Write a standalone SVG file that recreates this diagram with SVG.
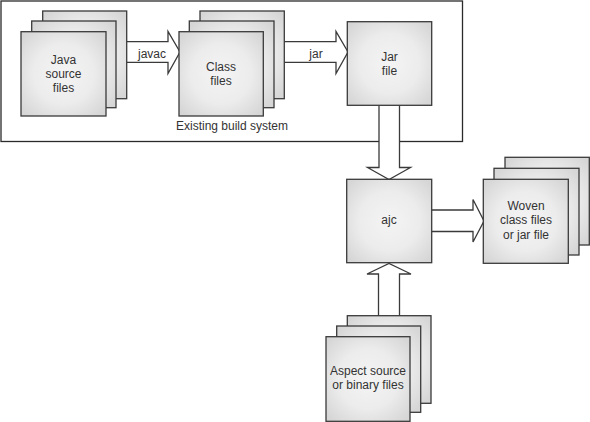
<svg xmlns="http://www.w3.org/2000/svg" width="590" height="422" viewBox="0 0 590 422">
<defs>
<radialGradient id="g" cx="50%" cy="50%" r="65%">
<stop offset="0" stop-color="#f4f4f4"/>
<stop offset="0.55" stop-color="#ececec"/>
<stop offset="1" stop-color="#d6d6d6"/>
</radialGradient>
</defs>
<style>
.n{fill:url(#g);stroke:#3a3a3a;stroke-width:1.3}
.a{fill:#fff;stroke:#3a3a3a;stroke-width:1.3;stroke-linejoin:miter}
.t{font-family:"Liberation Sans",Arial,sans-serif;font-size:12px;fill:#333;text-anchor:middle}
.box{fill:#fff;stroke:#2a2a2a;stroke-width:1.3}
</style>
<rect class="box" x="1" y="1" width="461.5" height="140.5"/>
<text class="t" x="232" y="130">Existing build system</text>
<g id="connectors">
<path class="a" d="M127,41.7 H168 V31.5 L180,52 L168,73.5 V62.3 H127"/>
<text class="t" x="152" y="57.5">javac</text>
<path class="a" d="M284,41.7 H336 V31.5 L348,52 L336,73.5 V62.3 H284"/>
<text class="t" x="316" y="57.5">jar</text>
<path class="a" d="M379,105.5 V167.5 H367.5 L389,179.5 L410.5,167.5 H399.5 V105.5"/>
<path class="a" d="M432,210 H473 V199.5 L484,221 L473,242 V231.5 H432"/>
<path class="a" d="M378.5,316 V274 H367 L389,263.5 L411,274 H399.5 V316"/>
</g>
<g id="java">
<rect class="n" x="42.7" y="11" width="84" height="87.7"/>
<rect class="n" x="31.7" y="21" width="84.3" height="86.7"/>
<rect class="n" x="21" y="31.7" width="85" height="84.3"/>
<text class="t" x="63.5" y="64">Java</text>
<text class="t" x="63.5" y="78">source</text>
<text class="t" x="63.5" y="92">files</text>
</g>
<g id="class">
<rect class="n" x="200" y="11" width="84.3" height="87.7"/>
<rect class="n" x="189.3" y="21" width="84.7" height="86.7"/>
<rect class="n" x="179" y="31.7" width="84.3" height="84.3"/>
<text class="t" x="221" y="71">Class</text>
<text class="t" x="221" y="85">files</text>
</g>
<g id="jar">
<rect class="n" x="347.3" y="21.7" width="84.4" height="83.6"/>
<text class="t" x="389.5" y="60.5">Jar</text>
<text class="t" x="389.5" y="74.5">file</text>
</g>
<g id="ajc">
<rect class="n" x="346.7" y="179.3" width="85" height="83.4"/>
<text class="t" x="389" y="224">ajc</text>
</g>
<g id="woven">
<rect class="n" x="505" y="157.3" width="84.3" height="87.7"/>
<rect class="n" x="494" y="168.3" width="85" height="86.7"/>
<rect class="n" x="483.3" y="179.3" width="85" height="84"/>
<text class="t" x="526" y="210">Woven</text>
<text class="t" x="526" y="224.3">class files</text>
<text class="t" x="526" y="238.5">or jar file</text>
</g>
<g id="aspect">
<rect class="n" x="347.3" y="315.7" width="83.7" height="87.6"/>
<rect class="n" x="336.7" y="326" width="84" height="86.3"/>
<rect class="n" x="326" y="336.7" width="84" height="84.6"/>
<text class="t" x="368" y="375">Aspect source</text>
<text class="t" x="368" y="389.3">or binary files</text>
</g>
</svg>
